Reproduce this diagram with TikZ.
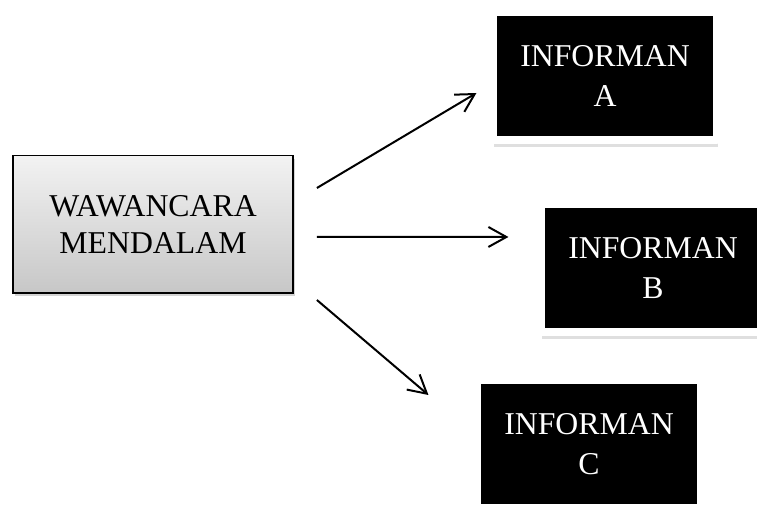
\documentclass[tikz,border=0pt]{standalone}
\usepackage{fontspec}
\setmainfont{Liberation Serif}
\usetikzlibrary{arrows.meta,shadows}
\tikzset{
    informan/.style={rectangle, draw=white, fill=black, text=white, line width=1.875mm, line join=round, align=center, minimum width=5.59cm, minimum height=3.19cm, font=\fontsize{22.6pt}{28pt}\selectfont, drop shadow={shadow xshift=0.03cm, shadow yshift=-0.17cm, opacity=0.25}},
    panah/.style={-{Straight Barb[length=4.5mm, width=5mm]}, line width=0.5mm}
}
\begin{document}
\begin{tikzpicture}
    \useasboundingbox (0, 0) rectangle (18.925, 12.7);
    \node (wawancara) at (3.825, 7.09) [rectangle, draw, line width=0.35mm, top color=black!5, bottom color=black!22, align=center, minimum width=7cm, minimum height=3.43cm, font=\fontsize{22.6pt}{26.5pt}\selectfont, drop shadow={shadow xshift=0.06cm, shadow yshift=-0.08cm, opacity=0.35}] {WAWANCARA\\MENDALAM};
    \node (infA) at (15.125, 10.8) [informan] {INFORMAN\\A};
    \node (infB) at (16.325, 6.0) [informan] {INFORMAN\\B};
    \node (infC) at (14.725, 1.6) [informan] {INFORMAN\\C};
    \draw[panah] ([shift={(0.58, 0.91)}]wawancara.east) -- ([shift={(-0.325, -0.425)}]infA.west);
    \draw[panah] ([shift={(0.58, -0.31)}]wawancara.east) -- ([shift={(-0.725, 0.775)}]infB.west);
    \draw[panah] ([shift={(0.58, -1.89)}]wawancara.east) -- ([shift={(-1.125, 1.225)}]infC.west);
\end{tikzpicture}
\end{document}
